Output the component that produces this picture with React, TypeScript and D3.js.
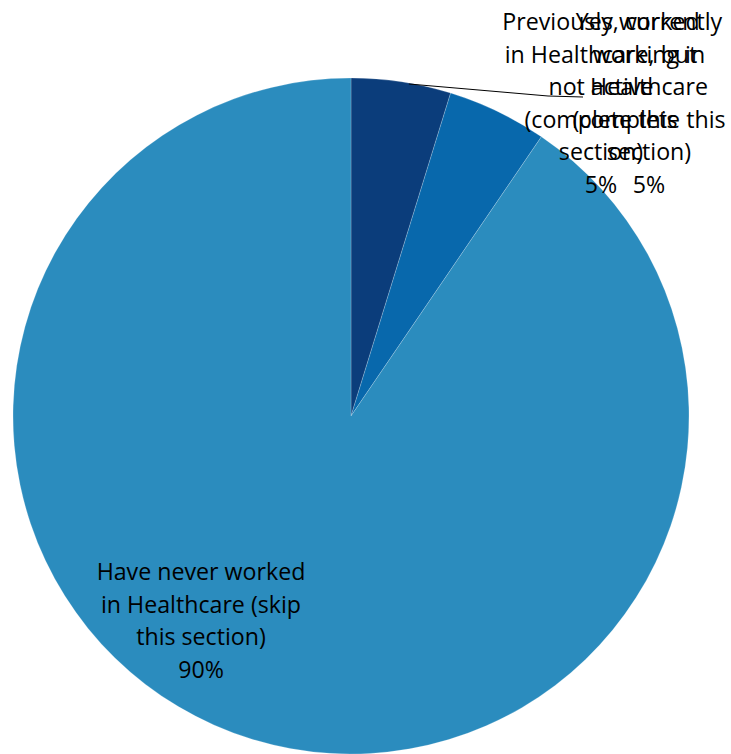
import React from "react";
import * as d3 from "d3";

const categories = [
  "Previously worked in Healthcare, but not active (complete this section)",
  "Yes, currently working in Healthcare (complete this section)",
  "Have never worked in Healthcare (skip this section)",
];
const counts = [1, 1, 19];
const colors = ["#0b3d7b", "#0868ac", "#2b8cbe"];
const labelLines = [
  ["Previously worked", "in Healthcare, but", "not active", "(complete this", "section)"],
  ["Yes, currently", "working in", "Healthcare", "(complete this", "section)"],
  ["Have never worked", "in Healthcare (skip", "this section)"],
];

const W = 731;
const H = 754;
const cx = 351;
const cy = 416;
const R = 338;
const FONT = "'Open Sans', 'Noto Sans', sans-serif";
const FS = 23.2;
const LH = 32.6;

export default function App() {
  const pie = d3.pie<number>().value((d) => d).sort(null);
  const arcs = pie(counts);
  const arcGen = d3.arc<d3.PieArcDatum<number>>().innerRadius(0).outerRadius(R);
  const total = d3.sum(counts);
  const pct = (v: number) => d3.format(".0%")(v / total);

  // label anchor positions (center x, first baseline y)
  const labelPos = [
    { x: 601, y: 30 },
    { x: 649, y: 30 },
    { x: 201, y: 580 },
  ];

  // leader line for first slice
  const a0 = arcs[0];
  const mid0 = (a0.startAngle + a0.endAngle) / 2;
  const lx0 = cx + Math.sin(mid0 * 1.15) * R;
  const ly0 = cy - Math.cos(mid0 * 1.15) * R;

  return (
    <svg
      width={W}
      height={H}
      style={{ position: "absolute", left: 0, top: 0, display: "block", background: "#fff" }}
    >
      <g transform={`translate(${cx},${cy})`}>
        {arcs.map((a, i) => (
          <path key={i} d={arcGen(a) || ""} fill={colors[i]} stroke="#ffffff" strokeWidth={0.4} strokeOpacity={0.5} />
        ))}
      </g>
      <polyline
        points={`${lx0},${ly0 + 1} 548,96 583,97`}
        fill="none"
        stroke="#000"
        strokeWidth={1}
      />
      {labelLines.map((lines, i) => (
        <text
          key={i}
          fontFamily={FONT}
          fontSize={FS}
          fill="#000"
          textAnchor="middle"
        >
          {[...lines, pct(counts[i])].map((t, j) => (
            <tspan key={j} x={labelPos[i].x} y={labelPos[i].y + j * LH}>
              {t}
            </tspan>
          ))}
        </text>
      ))}
    </svg>
  );
}
